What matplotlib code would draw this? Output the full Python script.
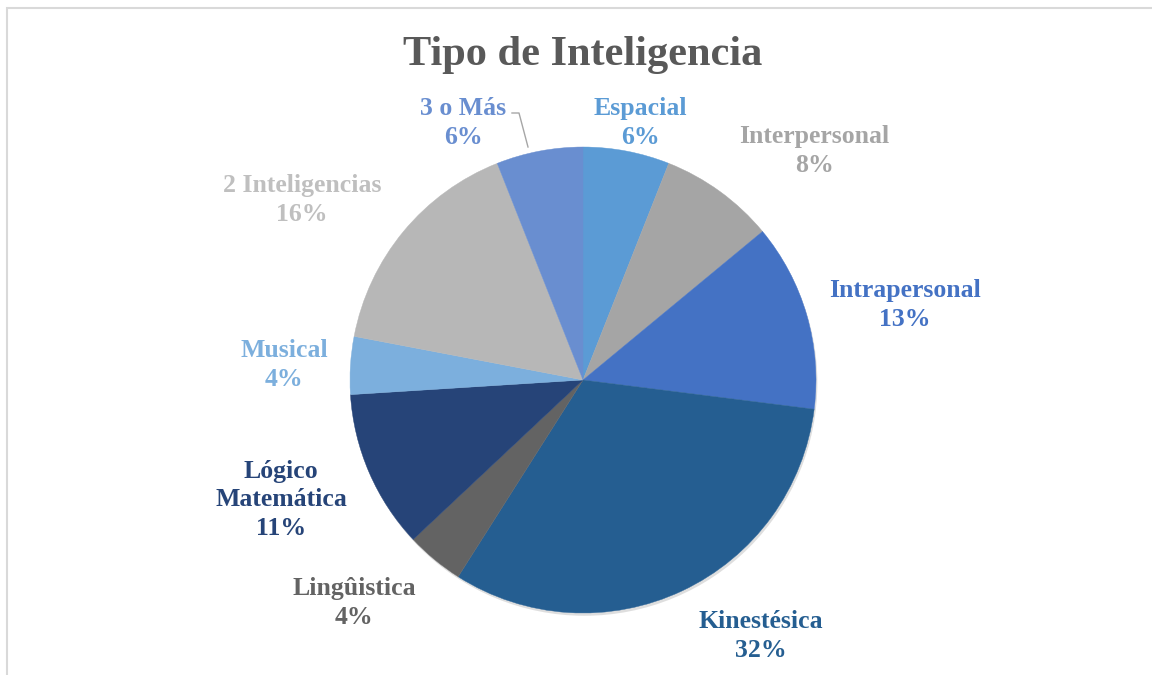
import matplotlib
matplotlib.use('Agg')
import matplotlib.pyplot as plt
from matplotlib.patches import Rectangle, Circle
import matplotlib.patheffects as pe

# ── data ──
categories = ['Espacial', 'Interpersonal', 'Intrapersonal', 'Kinestésica',
              'Lingûistica', 'Lógico\nMatemática', 'Musical',
              '2 Inteligencias', '3 o Más']
values = [6, 8, 13, 32, 4, 11, 4, 16, 6]
colors = ['#5B9BD5', '#A5A5A5', '#4472C4', '#255E91', '#636363',
          '#264478', '#7CAFDD', '#B7B7B7', '#698ED0']

# label centres (pixels, from top-left) - layout only
label_pos = [(640, 123), (814, 151), (905, 305), (761, 636), (354, 603),
             (281, 500), (284, 365), (302, 200), (463, 123)]

W, H = 1152, 675
fig = plt.figure(figsize=(W / 100, H / 100), dpi=100)
ax = fig.add_axes([0, 0, 1, 1])

# chart frame (cropped on right/bottom)
fig.patches.append(Rectangle((7 / W, -0.1), 1.2, (H - 8) / H + 0.1,
                             transform=fig.transFigure, fill=False,
                             edgecolor='#D9D9D9', linewidth=1.5))

cx, cy, r = 583, H - 380, 233
shadow = Circle((cx, cy), r, facecolor='white', edgecolor='none', zorder=0)
shadow.set_path_effects([pe.SimplePatchShadow(offset=(1, -2), alpha=0.18), pe.Normal()])
ax.add_patch(shadow)
wedges, _ = ax.pie(values, colors=colors, startangle=90, counterclock=False,
                   center=(cx, cy), radius=r, frame=True,
                   wedgeprops=dict(linewidth=0.3))
for w, c in zip(wedges, colors):
    w.set_edgecolor(c)
ax.set_xlim(0, W)
ax.set_ylim(0, H)
ax.set_aspect('equal')
ax.axis('off')

font = 'Liberation Serif'
for lab, v, c, (x, y) in zip(categories, values, colors, label_pos):
    tc = '#BFBFBF' if lab == '2 Inteligencias' else c
    ax.text(x, H - y, f'{lab}\n{v}%', ha='center', va='center', color=tc,
            fontsize=18.5, fontweight='bold', family=font, linespacing=1.33)

# leader line for "3 o Más"
ax.plot([512, 519, 528], [H - 113, H - 113, H - 147], color='#A6A6A6', lw=1)

ax.text(583, H - 55, 'Tipo de Inteligencia', ha='center', va='center',
        color='#595959', fontsize=30.5, fontweight='bold', family=font)

fig.savefig('out.png', dpi=100)
